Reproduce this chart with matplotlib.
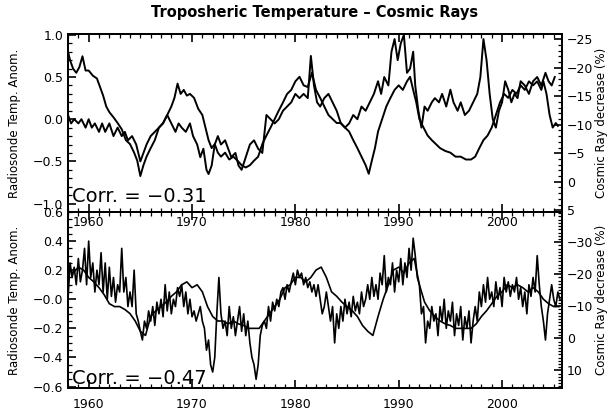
import numpy as np
import matplotlib.pyplot as plt
from matplotlib.ticker import MultipleLocator, FixedLocator, FixedFormatter

# ---- upper panel: temperature anomaly (left) and cosmic ray decrease (right)
yr_temp1 = [1958.0, 1958.3, 1958.6, 1959.0, 1959.3, 1959.7, 1960.0, 1960.3, 1960.6, 1961.0,
            1961.3, 1961.6, 1962.0, 1962.4, 1962.8, 1963.2, 1963.5, 1963.8, 1964.2, 1964.6,
            1965.0, 1965.3, 1965.6, 1966.0, 1966.4, 1966.8, 1967.2, 1967.6, 1968.0, 1968.4,
            1968.7, 1969.0, 1969.4, 1969.8, 1970.1, 1970.5, 1970.8, 1971.1, 1971.4, 1971.6,
            1971.9, 1972.2, 1972.5, 1972.8, 1973.2, 1973.5, 1973.8, 1974.2, 1974.5, 1974.8,
            1975.2, 1975.6, 1976.0, 1976.4, 1976.8, 1977.2, 1977.6, 1978.0, 1978.4, 1978.8,
            1979.2, 1979.6, 1980.0, 1980.4, 1980.8, 1981.2, 1981.5, 1981.8, 1982.1, 1982.4,
            1982.8, 1983.2, 1983.6, 1984.0, 1984.4, 1984.8, 1985.2, 1985.6, 1986.0, 1986.4,
            1986.8, 1987.2, 1987.6, 1988.0, 1988.3, 1988.6, 1989.0, 1989.3, 1989.6, 1989.9,
            1990.2, 1990.5, 1990.8, 1991.1, 1991.4, 1991.6, 1991.9, 1992.2, 1992.5, 1992.8,
            1993.2, 1993.5, 1993.9, 1994.2, 1994.6, 1995.0, 1995.3, 1995.7, 1996.0, 1996.4,
            1996.8, 1997.2, 1997.6, 1997.9, 1998.2, 1998.5, 1998.8, 1999.1, 1999.4, 1999.7,
            2000.0, 2000.3, 2000.6, 2000.9, 2001.2, 2001.5, 2001.8, 2002.2, 2002.6, 2003.0,
            2003.4, 2003.8, 2004.2, 2004.5, 2004.8, 2005.1]
temp1 = [0.05, -0.05, 0.00, -0.05, 0.00, -0.10, 0.00, -0.10, -0.05, -0.15,
         -0.05, -0.15, -0.05, -0.20, -0.10, -0.20, -0.15, -0.25, -0.20, -0.30,
         -0.50, -0.40, -0.30, -0.20, -0.15, -0.10, -0.05, 0.05, -0.05, -0.15,
         -0.05, -0.10, -0.15, -0.05, -0.20, -0.30, -0.45, -0.35, -0.60, -0.65,
         -0.55, -0.30, -0.20, -0.30, -0.25, -0.35, -0.45, -0.40, -0.55, -0.60,
         -0.45, -0.30, -0.25, -0.35, -0.40, 0.05, 0.00, -0.05, 0.00, 0.10,
         0.15, 0.20, 0.30, 0.25, 0.30, 0.25, 0.75, 0.40, 0.20, 0.15,
         0.25, 0.30, 0.20, 0.10, -0.05, -0.10, -0.05, 0.05, 0.00, 0.15,
         0.10, 0.20, 0.30, 0.45, 0.30, 0.50, 0.40, 0.80, 0.95, 0.70,
         0.90, 1.00, 0.55, 0.60, 0.80, 0.40, 0.10, -0.10, 0.15, 0.10,
         0.20, 0.25, 0.20, 0.30, 0.15, 0.35, 0.20, 0.10, 0.20, 0.05,
         0.10, 0.20, 0.30, 0.50, 0.95, 0.70, 0.30, 0.00, -0.10, 0.10,
         0.20, 0.45, 0.35, 0.20, 0.30, 0.25, 0.45, 0.40, 0.30, 0.45,
         0.50, 0.40, 0.55, 0.45, 0.40, 0.50]

yr_cr1 = [1958.0, 1958.2, 1958.5, 1958.8, 1959.1, 1959.4, 1959.7, 1960.0, 1960.4, 1960.8,
          1961.1, 1961.4, 1961.7, 1962.0, 1962.4, 1962.8, 1963.2, 1963.6, 1964.0, 1964.4,
          1964.7, 1965.0, 1965.3, 1965.6, 1966.0, 1966.4, 1966.8, 1967.2, 1967.6, 1968.0,
          1968.3, 1968.6, 1968.9, 1969.2, 1969.5, 1969.8, 1970.2, 1970.6, 1971.0, 1971.3,
          1971.6, 1971.9, 1972.2, 1972.5, 1972.8, 1973.2, 1973.6, 1974.0, 1974.4, 1974.8,
          1975.2, 1975.6, 1976.0, 1976.4, 1976.8, 1977.2, 1977.6, 1978.0, 1978.4, 1978.8,
          1979.2, 1979.6, 1980.0, 1980.4, 1980.8, 1981.2, 1981.6, 1982.0, 1982.4, 1982.8,
          1983.2, 1983.6, 1984.0, 1984.4, 1984.8, 1985.2, 1985.6, 1986.0, 1986.4, 1986.8,
          1987.1, 1987.4, 1987.7, 1988.0, 1988.4, 1988.8, 1989.2, 1989.6, 1990.0, 1990.4,
          1990.8, 1991.1, 1991.4, 1991.7, 1992.0, 1992.4, 1992.8, 1993.2, 1993.6, 1994.0,
          1994.5, 1995.0, 1995.5, 1996.0, 1996.5, 1997.0, 1997.4, 1997.8, 1998.2, 1998.6,
          1999.0, 1999.4, 1999.8, 2000.2, 2000.6, 2001.0, 2001.4, 2001.8, 2002.2, 2002.6,
          2003.0, 2003.4, 2003.8, 2004.0, 2004.3, 2004.6, 2004.9, 2005.2, 2005.4]
cr1 = [-22.8, -21.3, -19.8, -19.1, -20.1, -22.0, -19.5, -19.5, -18.6, -18.1,
       -16.6, -15.1, -13.2, -12.2, -11.3, -10.3, -9.2, -7.3, -6.6, -5.1,
       -3.7, -1.0, -2.9, -4.4, -5.9, -7.3, -9.5, -10.3, -11.7, -13.2,
       -14.7, -17.2, -15.4, -16.1, -15.1, -15.4, -14.7, -12.8, -11.7, -9.5,
       -7.3, -5.9, -6.6, -5.1, -4.4, -5.1, -3.9, -4.4, -3.7, -2.9,
       -2.5, -2.9, -3.7, -4.4, -6.6, -8.1, -9.5, -11.0, -12.5, -13.9,
       -15.4, -16.1, -17.6, -18.4, -16.9, -16.6, -19.1, -16.1, -14.7, -13.2,
       -11.7, -11.0, -10.3, -10.3, -9.5, -8.8, -7.3, -5.9, -4.4, -2.9,
       -1.4, -3.7, -5.9, -8.8, -11.0, -13.2, -14.7, -16.1, -16.9, -16.1,
       -17.6, -18.4, -16.1, -13.9, -11.0, -9.5, -8.1, -7.3, -6.6, -5.9,
       -5.4, -5.1, -4.4, -4.4, -3.9, -3.9, -4.4, -5.9, -7.3, -8.1,
       -9.5, -11.7, -13.9, -15.4, -14.7, -16.1, -15.4, -16.9, -16.1, -17.6,
       -16.9, -17.6, -16.1, -17.6, -15.4, -11.7, -9.5, -10.3, -9.8]

# ---- lower panel
yr_temp2 = [1958.0 + 0.2 * i for i in range(239)]
temp2 = [0.00, 0.25, 0.15, 0.22, 0.10, 0.28, 0.12, 0.20, 0.35, 0.10,
         0.40, 0.15, 0.25, 0.05, 0.20, 0.10, 0.32, 0.05, 0.25, 0.00,
         0.22, 0.02, 0.15, -0.02, 0.10, 0.05, 0.35, 0.05, 0.15, -0.05,
         0.05, -0.05, 0.20, -0.10, -0.15, -0.22, -0.28, -0.15, -0.20, -0.08,
         -0.15, -0.05, -0.18, -0.02, -0.10, 0.00, -0.12, 0.10, -0.08, 0.05,
         -0.10, 0.00, -0.05, 0.08, 0.02, 0.10, -0.05, 0.05, -0.10, 0.00,
         -0.12, -0.08, -0.15, -0.10, -0.05, -0.15, -0.20, -0.35, -0.28, -0.45,
         -0.50, -0.40, -0.10, 0.15, -0.10, -0.20, -0.15, -0.25, -0.05, -0.20,
         -0.12, -0.25, -0.15, -0.05, -0.22, -0.10, -0.25, -0.15, -0.30, -0.40,
         -0.45, -0.55, -0.45, -0.25, -0.18, -0.15, -0.20, -0.05, -0.15, -0.02,
         -0.08, 0.00, -0.05, 0.05, 0.08, 0.00, 0.10, 0.05, 0.12, 0.18,
         0.10, 0.20, 0.15, 0.18, 0.10, 0.15, 0.08, 0.12, 0.05, 0.10,
         0.02, 0.10, 0.00, -0.10, -0.05, 0.05, -0.05, -0.15, -0.05, -0.30,
         -0.10, -0.20, -0.05, -0.15, 0.00, -0.10, -0.02, -0.12, 0.02, -0.08,
         -0.02, -0.10, 0.05, -0.05, 0.00, 0.10, 0.00, 0.15, 0.02, 0.10,
         0.00, 0.18, 0.10, 0.30, 0.05, 0.15, 0.10, 0.25, 0.05, 0.20,
         0.12, 0.28, 0.10, 0.25, 0.15, 0.35, 0.20, 0.42, 0.30, 0.15,
         0.10, -0.10, -0.05, -0.30, -0.15, -0.20, -0.05, -0.15, -0.10, -0.25,
         -0.05, -0.15, 0.00, -0.20, -0.08, -0.15, -0.02, -0.25, -0.10, -0.18,
         -0.05, -0.28, -0.12, -0.20, -0.08, -0.30, -0.15, -0.05, -0.15, 0.05,
         -0.05, 0.10, -0.02, 0.15, 0.00, 0.05, -0.05, 0.12, 0.00, 0.08,
         -0.05, 0.15, 0.05, 0.12, 0.02, 0.10, 0.05, 0.15, 0.00, 0.08,
         -0.05, 0.05, -0.10, 0.10, 0.02, 0.15, 0.05, 0.30, 0.10, -0.05,
         -0.15, -0.28, -0.10, 0.00, 0.10, 0.00, -0.05, 0.05, 0.00]

yr_cr2 = [1958.0 + 0.5 * i for i in range(96)]
cr2 = [-21.3, -20.4, -22.2, -21.3, -19.0, -17.6, -15.8, -13.6, -10.8, -9.9,
       -9.9, -9.0, -7.7, -5.4, -2.2, -0.9, -6.8, -8.6, -9.9, -11.3,
       -13.1, -14.5, -16.7, -17.6, -15.8, -16.7, -14.5, -9.9, -6.8, -5.4,
       -5.4, -4.5, -5.4, -4.5, -4.0, -3.1, -3.1, -3.1, -5.4, -7.7,
       -9.9, -12.2, -15.8, -16.7, -19.0, -19.0, -17.6, -19.0, -21.3, -22.2,
       -19.0, -14.5, -13.1, -11.3, -9.9, -8.6, -6.8, -4.0, -2.2, -0.9,
       -6.8, -12.2, -16.7, -21.3, -22.2, -20.4, -23.5, -24.9, -16.7, -11.3,
       -8.6, -6.8, -5.4, -4.5, -4.0, -3.1, -3.1, -3.1, -3.1, -4.5,
       -6.8, -8.6, -10.8, -13.1, -14.5, -16.7, -15.8, -16.7, -15.8, -14.5,
       -15.8, -14.5, -12.2, -10.8, -9.9, -9.9]

year_ticks = [1960, 1970, 1980, 1990, 2000]
left1_ticks = [1.0, 0.5, 0.0, -0.5, -1.0]
left1_labels = ["1.0", "0.5", "0.0", "\u22120.5", "\u22121.0"]
left2_ticks = [0.6, 0.4, 0.2, 0.0, -0.2, -0.4, -0.6]
left2_labels = ["0.6", "0.4", "0.2", "\u22120.0", "\u22120.2", "\u22120.4", "\u22120.6"]
right1_ticks = [-25, -20, -15, -10, -5, 0, 5]
right2_ticks = [-30, -20, -10, 0, 10]

plt.rcParams["font.family"] = "DejaVu Sans"
plt.rcParams["axes.linewidth"] = 1.3

fig = plt.figure(figsize=(6.15, 4.13), dpi=100)
W, H = 615.0, 413.0
x0, x1 = 68, 562
ax1 = fig.add_axes([x0 / W, 1 - 212 / H, (x1 - x0) / W, (212 - 34) / H])
ax2 = fig.add_axes([x0 / W, 1 - 388 / H, (x1 - x0) / W, (388 - 212) / H])
ax2.patch.set_visible(False)


def style(ax):
    ax.tick_params(which="both", direction="in", labelsize=9, colors="black")
    ax.tick_params(which="major", length=6, width=1.2)
    ax.tick_params(which="minor", length=3, width=0.9)


for ax in (ax1, ax2):
    ax.set_xlim(1958, 2005.8)
    ax.xaxis.set_major_locator(FixedLocator(year_ticks))
    ax.xaxis.set_minor_locator(MultipleLocator(1))
    ax.tick_params(axis="x", which="both", top=True)
    style(ax)

ax1.plot(yr_temp1, temp1, color="black", lw=1.4)
ax1.set_ylim(-1.1, 1.01)
ax1.yaxis.set_major_locator(FixedLocator(left1_ticks))
ax1.yaxis.set_major_formatter(FixedFormatter(left1_labels))
ax1.yaxis.set_minor_locator(MultipleLocator(0.1))
ax1.tick_params(axis="x", pad=3)

ax2.plot(yr_temp2, temp2, color="black", lw=1.2)
ax2.set_ylim(-0.61, 0.6)
ax2.yaxis.set_major_locator(FixedLocator(left2_ticks))
ax2.yaxis.set_major_formatter(FixedFormatter(left2_labels))
ax2.yaxis.set_minor_locator(MultipleLocator(0.05))
ax2.tick_params(axis="x", pad=7)

r1 = ax1.twinx()
r1.plot(yr_cr1, cr1, color="black", lw=1.4)
r1.set_ylim(5.3, -25.9)
r1.yaxis.set_major_locator(FixedLocator(right1_ticks))
r1.yaxis.set_minor_locator(MultipleLocator(1))
style(r1)

r2 = ax2.twinx()
r2.plot(yr_cr2, cr2, color="black", lw=1.2)
r2.set_ylim(15.5, -39.4)
r2.yaxis.set_major_locator(FixedLocator(right2_ticks))
r2.yaxis.set_minor_locator(MultipleLocator(1))
style(r2)

fig.text(315 / W, 1 - 12 / H, "Troposheric Temperature \u2013 Cosmic Rays",
         ha="center", va="center", fontsize=10.5, fontweight="bold")

for yc in (123, 300):
    fig.text(15 / W, 1 - yc / H, "Radiosonde Temp. Anom.", rotation=90,
             ha="center", va="center", fontsize=8.5)
    fig.text(602 / W, 1 - yc / H, "Cosmic Ray decrease (%)", rotation=90,
             ha="center", va="center", fontsize=8.5)

ax1.text(0.008, 0.035, "Corr. = \u22120.31", transform=ax1.transAxes,
         fontsize=14, va="bottom", ha="left")
ax2.text(0.008, 0.0, "Corr. = \u22120.47", transform=ax2.transAxes,
         fontsize=14, va="bottom", ha="left")

fig.savefig("out.png", dpi=100, facecolor="white")
